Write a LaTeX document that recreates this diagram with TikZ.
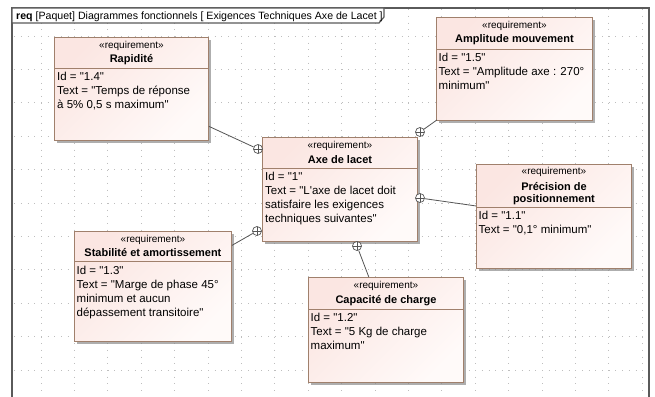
\documentclass[tikz,border=0pt]{standalone}
\usepackage{fontspec}
\setmainfont{Liberation Sans}[Ligatures=TeXOff]
\usetikzlibrary{calc,shadows}
\definecolor{reqA}{RGB}{251,230,226}
\definecolor{reqB}{RGB}{255,250,249}
\definecolor{reqborder}{RGB}{160,128,108}
\definecolor{framecol}{RGB}{90,90,90}
\definecolor{gridcol}{RGB}{190,190,190}
\definecolor{linkcol}{RGB}{85,85,85}
\begin{document}
\begin{tikzpicture}[x=1pt,y=-1pt,
  reqbox/.style={rectangle, draw=reqborder, line width=0.9pt, top color=reqA, bottom color=reqB, shading angle=45, anchor=north west, inner sep=0pt, drop shadow={shadow xshift=2.5pt, shadow yshift=-2.5pt, fill=black!45, opacity=0.7}},
  divider/.style={draw=reqborder, line width=0.9pt},
  stereo/.style={font=\fontsize{10}{12}\selectfont, inner sep=0pt, anchor=base},
  reqname/.style={font=\fontsize{11}{11.5}\selectfont\bfseries, inner sep=0pt, anchor=base, align=center},
  bodytext/.style={font=\fontsize{11.5}{14}\selectfont, inner sep=0pt, anchor=north west, align=left, execute at begin node=\strut},
  gridline/.style={gridcol, line width=0.7pt, dash pattern=on 0.7pt off 5.98pt},
  framestyle/.style={draw=framecol, line width=1.2pt},
  link/.style={draw=linkcol, line width=0.8pt},
  contain/.style={circle, draw=linkcol, fill=white, line width=0.7pt, minimum size=9pt, inner sep=0pt,
    path picture={\draw[linkcol, line width=0.6pt] (path picture bounding box.north) -- (path picture bounding box.south) (path picture bounding box.west) -- (path picture bounding box.east);}}
]
\useasboundingbox (0,0) rectangle (655,396);
\fill[white] (0,0) rectangle (655,396);
% grid
\begin{scope}
\clip (12,8) rectangle (649,396);
\foreach \k in {1,...,19} \draw[gridline] ({7.6+33.4*\k},2.6) -- ({7.6+33.4*\k},396);
\foreach \k in {1,...,11} \draw[gridline] (7.6,{2.6+33.4*\k}) -- (649,{2.6+33.4*\k});
\end{scope}
% frame
\draw[framestyle] (12,400) -- (12,8) -- (649,8) -- (649,400);
\draw[framestyle, fill=white] (12,8) -- (384,8) -- (384,17) -- (379,23) -- (12,23) -- cycle;
\node[anchor=base west, inner sep=0pt, font=\fontsize{10.6}{12}\selectfont] (title) at (16,19.5) {\textbf{req} [Paquet] Diagrammes fonctionnels [ Exigences Techniques Axe de Lacet ]};

% Rapidite
\node[reqbox, minimum width=154pt, minimum height=103pt] (rap) at (54,37) {};
\draw[divider] ($(rap.north west)+(0,31)$) -- ($(rap.north east)+(0,31)$);
\node[stereo] (rapS) at ($(rap.north)+(0,11.5)$) {«requirement»};
\node[reqname] (rapN) at ($(rap.north)+(0,26)$) {Rapidité};
\node[bodytext] (rapB) at ($(rap.north west)+(3,35.2)$) {Id = "1.4"\\Text = "Temps de réponse\\à 5\% 0,5 s maximum"};

% Amplitude mouvement
\node[reqbox, minimum width=156pt, minimum height=103pt] (amp) at (436,17) {};
\draw[divider] ($(amp.north west)+(0,32)$) -- ($(amp.north east)+(0,32)$);
\node[stereo] (ampS) at ($(amp.north)+(0,11.5)$) {«requirement»};
\node[reqname] (ampN) at ($(amp.north)+(0,26)$) {Amplitude mouvement};
\node[bodytext] (ampB) at ($(amp.north west)+(2.5,36.2)$) {Id = "1.5"\\Text = "Amplitude axe : 270°\\minimum"};

% Axe de lacet
\node[reqbox, minimum width=155pt, minimum height=104pt] (axe) at (262,137) {};
\draw[divider] ($(axe.north west)+(0,31)$) -- ($(axe.north east)+(0,31)$);
\node[stereo] (axeS) at ($(axe.north)+(0,11.5)$) {«requirement»};
\node[reqname] (axeN) at ($(axe.north)+(0,26)$) {Axe de lacet};
\node[bodytext] (axeB) at ($(axe.north west)+(3,35.2)$) {Id = "1"\\Text = "L'axe de lacet doit\\satisfaire les exigences\\techniques suivantes"};

% Precision de positionnement
\node[reqbox, minimum width=155pt, minimum height=104pt] (pre) at (476,164) {};
\draw[divider] ($(pre.north west)+(0,43)$) -- ($(pre.north east)+(0,43)$);
\node[stereo] (preS) at ($(pre.north)+(0,10.5)$) {«requirement»};
\node[reqname] (preN) at ($(pre.north)+(0,38)$) {Précision de\\positionnement};
\node[bodytext] (preB) at ($(pre.north west)+(2.5,47.2)$) {Id = "1.1"\\Text = "0,1° minimum"};

% Stabilite et amortissement
\node[reqbox, minimum width=157pt, minimum height=110pt] (sta) at (74,231) {};
\draw[divider] ($(sta.north west)+(0,30)$) -- ($(sta.north east)+(0,30)$);
\node[stereo] (staS) at ($(sta.north)+(0,11)$) {«requirement»};
\node[reqname] (staN) at ($(sta.north)+(0,25)$) {Stabilité et amortissement};
\node[bodytext] (staB) at ($(sta.north west)+(2.5,34.7)$) {Id = "1.3"\\Text = "Marge de phase 45°\\minimum et aucun\\dépassement transitoire"};

% Capacite de charge
\node[reqbox, minimum width=155pt, minimum height=105pt] (cap) at (308,277) {};
\draw[divider] ($(cap.north west)+(0,32)$) -- ($(cap.north east)+(0,32)$);
\node[stereo] (capS) at ($(cap.north)+(0,11.5)$) {«requirement»};
\node[reqname] (capN) at ($(cap.north)+(0,26)$) {Capacité de charge};
\node[bodytext] (capB) at ($(cap.north west)+(2.5,36.2)$) {Id = "1.2"\\Text = "5 Kg de charge\\maximum"};

% containment markers
\node[contain] (k1) at (258,149) {};
\node[contain] (k2) at (420,132) {};
\node[contain] (k3) at (420,198) {};
\node[contain] (k4) at (257,231) {};
\node[contain] (k5) at (357,246) {};

% connector ends on the sub-requirements
\coordinate (rapE) at ($(rap.north east)!0.86!(rap.south east)$);
\coordinate (ampE) at ($(amp.south west)+(1,-1)$);
\coordinate (preE) at ($(pre.north west)!0.4!(pre.south west)$);
\coordinate (staE) at ($(sta.north east)!0.13!(sta.south east)$);
\coordinate (capE) at ($(cap.north west)!0.39!(cap.north east)$);

\draw[link] (rapE) -- (k1);
\draw[link] (ampE) -- (k2);
\draw[link] (preE) -- (k3);
\draw[link] (staE) -- (k4);
\draw[link] (capE) -- (k5);
\end{tikzpicture}
\end{document}
